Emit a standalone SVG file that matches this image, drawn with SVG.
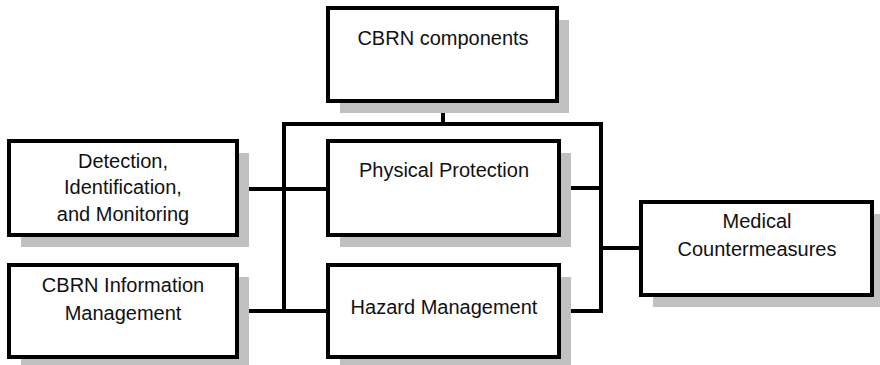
<svg xmlns="http://www.w3.org/2000/svg" width="880" height="365" viewBox="0 0 880 365">
  <style>
    .shadow { fill: #c0c0c0; stroke: none; }
    .box { fill: #ffffff; stroke: #000000; stroke-width: 4; }
    .label { font-family: "Liberation Sans", Arial, sans-serif; font-size: 20px; fill: #111111; text-anchor: middle; }
    .conn { fill: none; stroke: #000000; stroke-width: 4; stroke-linecap: square; stroke-linejoin: miter; }
  </style>
  <rect width="880" height="365" fill="#ffffff"/>

  <g id="connectors">
    <line class="conn" x1="443" y1="101" x2="443" y2="124"/>
    <line class="conn" x1="284" y1="124" x2="601" y2="124"/>
    <line class="conn" x1="284" y1="124" x2="284" y2="311"/>
    <line class="conn" x1="601" y1="124" x2="601" y2="311"/>
    <line class="conn" x1="237" y1="189" x2="328" y2="189"/>
    <line class="conn" x1="559" y1="188" x2="601" y2="188"/>
    <line class="conn" x1="237" y1="311" x2="328" y2="311"/>
    <line class="conn" x1="559" y1="311" x2="601" y2="311"/>
    <line class="conn" x1="601" y1="248" x2="641" y2="248"/>
  </g>

  <g id="cbrn-components">
    <rect class="shadow" x="340" y="20" width="229" height="93"/>
    <rect class="box" x="328" y="8" width="229" height="93"/>
    <text class="label" x="443" y="45">CBRN components</text>
  </g>

  <g id="detection">
    <rect class="shadow" x="21" y="153" width="228" height="94"/>
    <rect class="box" x="9" y="141" width="228" height="94"/>
    <text class="label" x="123" y="168">Detection,</text>
    <text class="label" x="123" y="194">Identification,</text>
    <text class="label" x="123" y="221">and Monitoring</text>
  </g>

  <g id="physical-protection">
    <rect class="shadow" x="340" y="153" width="231" height="94"/>
    <rect class="box" x="328" y="141" width="231" height="94"/>
    <text class="label" x="444" y="177">Physical Protection</text>
  </g>

  <g id="cbrn-information">
    <rect class="shadow" x="21" y="277" width="228" height="92"/>
    <rect class="box" x="9" y="265" width="228" height="92"/>
    <text class="label" x="123" y="292">CBRN Information</text>
    <text class="label" x="123" y="320">Management</text>
  </g>

  <g id="hazard-management">
    <rect class="shadow" x="340" y="277" width="231" height="92"/>
    <rect class="box" x="328" y="265" width="231" height="92"/>
    <text class="label" x="444" y="314">Hazard Management</text>
  </g>

  <g id="medical">
    <rect class="shadow" x="653" y="214" width="231" height="93"/>
    <rect class="box" x="641" y="202" width="231" height="93"/>
    <text class="label" x="757" y="228">Medical</text>
    <text class="label" x="757" y="256">Countermeasures</text>
  </g>
</svg>
